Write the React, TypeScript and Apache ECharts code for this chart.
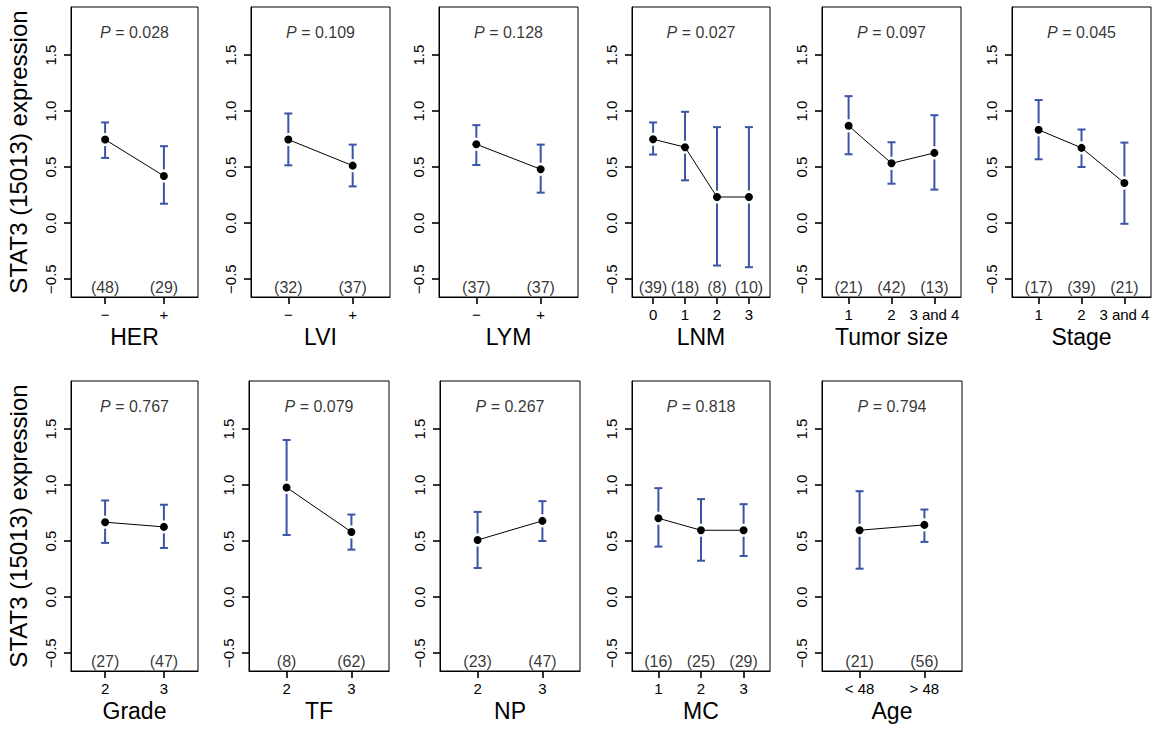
import React, { useEffect, useRef } from "react";
import * as echarts from "echarts";

// ---------------- data ----------------
const panelTitles = ["HER", "LVI", "LYM", "LNM", "Tumor size", "Stage", "Grade", "TF", "NP", "MC", "Age"];
const pValues = ["0.028", "0.109", "0.128", "0.027", "0.097", "0.045", "0.767", "0.079", "0.267", "0.818", "0.794"];

const catHER = ["−", "+"];
const catLVI = ["−", "+"];
const catLYM = ["−", "+"];
const catLNM = ["0", "1", "2", "3"];
const catTumor = ["1", "2", "3 and 4"];
const catStage = ["1", "2", "3 and 4"];
const catGrade = ["2", "3"];
const catTF = ["2", "3"];
const catNP = ["2", "3"];
const catMC = ["1", "2", "3"];
const catAge = ["< 48", "> 48"];

const meanHER = [0.746, 0.421];
const upHER = [0.899, 0.687];
const lowHER = [0.582, 0.173];
const nHER = [48, 29];

const meanLVI = [0.746, 0.513];
const upLVI = [0.979, 0.701];
const lowLVI = [0.516, 0.328];
const nLVI = [32, 37];

const meanLYM = [0.704, 0.481];
const upLYM = [0.875, 0.701];
const lowLYM = [0.519, 0.272];
const nLYM = [37, 37];

const meanLNM = [0.749, 0.678, 0.233, 0.233];
const upLNM = [0.899, 0.994, 0.857, 0.857];
const lowLNM = [0.612, 0.382, -0.379, -0.394];
const nLNM = [39, 18, 8, 10];

const meanTumor = [0.869, 0.534, 0.627];
const upTumor = [1.134, 0.722, 0.964];
const lowTumor = [0.615, 0.352, 0.299];
const nTumor = [21, 42, 13];

const meanStage = [0.833, 0.672, 0.358];
const upStage = [1.099, 0.836, 0.719];
const lowStage = [0.57, 0.501, -0.006];
const nStage = [17, 39, 21];

const meanGrade = [0.669, 0.627];
const upGrade = [0.863, 0.825];
const lowGrade = [0.484, 0.439];
const nGrade = [27, 47];

const meanTF = [0.979, 0.582];
const upTF = [1.403, 0.737];
const lowTF = [0.555, 0.424];
const nTF = [8, 62];

const meanNP = [0.51, 0.681];
const upNP = [0.761, 0.857];
const lowNP = [0.26, 0.501];
const nNP = [23, 47];

const meanMC = [0.704, 0.597, 0.597];
const upMC = [0.973, 0.875, 0.83];
const lowMC = [0.451, 0.325, 0.367];
const nMC = [16, 25, 29];

const meanAge = [0.597, 0.645];
const upAge = [0.946, 0.782];
const lowAge = [0.254, 0.493];
const nAge = [21, 56];

const yTicks = [-0.5, 0, 0.5, 1.0, 1.5];
const yTitle = "STAT3 (15013) expression";

const panelCats = [catHER, catLVI, catLYM, catLNM, catTumor, catStage, catGrade, catTF, catNP, catMC, catAge];
const panelMeans = [meanHER, meanLVI, meanLYM, meanLNM, meanTumor, meanStage, meanGrade, meanTF, meanNP, meanMC, meanAge];
const panelUps = [upHER, upLVI, upLYM, upLNM, upTumor, upStage, upGrade, upTF, upNP, upMC, upAge];
const panelLows = [lowHER, lowLVI, lowLYM, lowLNM, lowTumor, lowStage, lowGrade, lowTF, lowNP, lowMC, lowAge];
const panelNs = [nHER, nLVI, nLYM, nLNM, nTumor, nStage, nGrade, nTF, nNP, nMC, nAge];

// ---------------- layout ----------------
const FONT = '"Liberation Sans", Arial, Helvetica, sans-serif';
const TXT = "#000";
const LINE = "#000";
const BAR_COLOR = "#3a54a6";
const Y_MIN = -0.66;
const Y_MAX = 1.93;
const COUNT_Y = -0.575;
const P_Y = 1.705;
const GRID_H = 290;
const gridBoxes: [number, number, number][] = [
  [71, 7, 127],
  [251, 7, 139],
  [439, 7, 139],
  [632, 7, 138],
  [822, 7, 139],
  [1012, 7, 139],
  [71, 381, 127],
  [249, 381, 140],
  [440, 381, 140],
  [632, 381, 138],
  [822, 381, 140],
];

const fmtY = (v: number) => {
  const s = Math.abs(v).toFixed(1);
  return v < -1e-9 ? "−" + s : s;
};

function buildOption() {
  const grid: any[] = [];
  const xAxis: any[] = [];
  const yAxis: any[] = [];
  const series: any[] = [];

  panelTitles.forEach((title, i) => {
    const cats = panelCats[i];
    const n = cats.length;
    const xs = cats.map((_, k) => k + 1);
    const xmin = 0.5 - 0.04 * n;
    const xmax = n + 0.5 + 0.04 * n;
    const [left, top, width] = gridBoxes[i];
    const firstInRow = i === 0 || i === 6;

    grid.push({
      left,
      top,
      width,
      height: GRID_H,
      show: true,
      borderColor: LINE,
      borderWidth: 1,
    });

    xAxis.push({
      gridIndex: i,
      type: "value",
      min: xmin,
      max: xmax,
      axisLine: { show: true, onZero: false, lineStyle: { color: LINE, width: 1 } },
      splitLine: { show: false },
      axisTick: {
        show: true,
        length: 7,
        customValues: xs,
        lineStyle: { color: LINE, width: 1.6 },
      },
      axisLabel: {
        show: true,
        customValues: xs,
        formatter: (v: number) => cats[Math.round(v) - 1] ?? "",
        margin: 10,
        fontSize: 15,
        color: TXT,
        fontFamily: FONT,
      },
      name: title,
      nameLocation: "middle",
      nameGap: 40,
      nameTextStyle: { fontSize: 23, color: TXT, fontFamily: FONT, verticalAlign: "middle" },
    });

    yAxis.push({
      gridIndex: i,
      type: "value",
      min: Y_MIN,
      max: Y_MAX,
      axisLine: { show: true, onZero: false, lineStyle: { color: LINE, width: 1 } },
      splitLine: { show: false },
      axisTick: {
        show: true,
        length: 7,
        customValues: yTicks,
        lineStyle: { color: LINE, width: 1.6 },
      },
      axisLabel: {
        show: true,
        customValues: yTicks,
        rotate: 90,
        formatter: (v: number) => fmtY(v),
        margin: 13,
        fontSize: 15,
        color: TXT,
        fontFamily: FONT,
      },
      name: firstInRow ? yTitle : "",
      nameLocation: "middle",
      nameGap: 53,
      nameRotate: 90,
      nameTextStyle: { fontSize: 24, color: TXT, fontFamily: FONT, verticalAlign: "middle" },
    });

    const means = panelMeans[i];
    const ups = panelUps[i];
    const lows = panelLows[i];
    const ns = panelNs[i];

    // error bars (with a gap around the mean dot)
    series.push({
      type: "custom",
      xAxisIndex: i,
      yAxisIndex: i,
      z: 2,
      silent: true,
      data: xs.map((x, k) => [x, lows[k], ups[k], means[k]]),
      renderItem: (params: any, api: any) => {
        const x = api.value(0);
        const pLow = api.coord([x, api.value(1)]);
        const pHigh = api.coord([x, api.value(2)]);
        const pMean = api.coord([x, api.value(3)]);
        const gap = 6.5;
        const cap = 4;
        const style = { stroke: BAR_COLOR, lineWidth: 2 };
        const children: any[] = [];
        if (pHigh[1] < pMean[1] - gap) {
          children.push({ type: "line", shape: { x1: pHigh[0], y1: pHigh[1], x2: pHigh[0], y2: pMean[1] - gap }, style });
        }
        if (pLow[1] > pMean[1] + gap) {
          children.push({ type: "line", shape: { x1: pLow[0], y1: pMean[1] + gap, x2: pLow[0], y2: pLow[1] }, style });
        }
        children.push({ type: "line", shape: { x1: pHigh[0] - cap, y1: pHigh[1], x2: pHigh[0] + cap, y2: pHigh[1] }, style });
        children.push({ type: "line", shape: { x1: pLow[0] - cap, y1: pLow[1], x2: pLow[0] + cap, y2: pLow[1] }, style });
        return { type: "group", children };
      },
    });

    // mean line + dots
    series.push({
      type: "line",
      xAxisIndex: i,
      yAxisIndex: i,
      z: 3,
      silent: true,
      data: xs.map((x, k) => [x, means[k]]),
      symbol: "circle",
      symbolSize: 8,
      showSymbol: true,
      itemStyle: { color: "#000" },
      lineStyle: { color: "#000", width: 1 },
    });

    // group sizes
    series.push({
      type: "scatter",
      xAxisIndex: i,
      yAxisIndex: i,
      z: 4,
      silent: true,
      symbolSize: 0,
      itemStyle: { color: "#000" },
      data: xs.map((x, k) => [x, COUNT_Y, ns[k]]),
      label: {
        show: true,
        position: "inside",
        formatter: (p: any) => "{c|(" + p.value[2] + ")}",
        fontSize: 16,
        color: TXT,
        textBorderWidth: 0,
        fontFamily: FONT,
        rich: { c: { fontSize: 16, color: TXT, fontFamily: FONT } },
      },
    });

    // P value
    series.push({
      type: "scatter",
      xAxisIndex: i,
      yAxisIndex: i,
      z: 4,
      silent: true,
      symbolSize: 0,
      itemStyle: { color: "#000" },
      data: [[(xmin + xmax) / 2, P_Y]],
      label: {
        show: true,
        position: "inside",
        formatter: "{i|P} = " + pValues[i],
        fontSize: 16,
        color: TXT,
        textBorderWidth: 0,
        fontFamily: FONT,
        rich: { i: { fontStyle: "italic", fontSize: 16, color: TXT, fontFamily: FONT } },
      },
    });
  });

  return {
    animation: false,
    textStyle: { fontFamily: FONT },
    grid,
    xAxis,
    yAxis,
    series,
  };
}

export default function App() {
  const ref = useRef<HTMLDivElement>(null);
  useEffect(() => {
    if (!ref.current) return;
    const chart = echarts.init(ref.current, undefined, { renderer: "svg" });
    chart.setOption(buildOption() as any);
    return () => chart.dispose();
  }, []);
  return (
    <div
      ref={ref}
      style={{ position: "fixed", left: 0, top: 0, width: 1159, height: 733, background: "#fff" }}
    />
  );
}
